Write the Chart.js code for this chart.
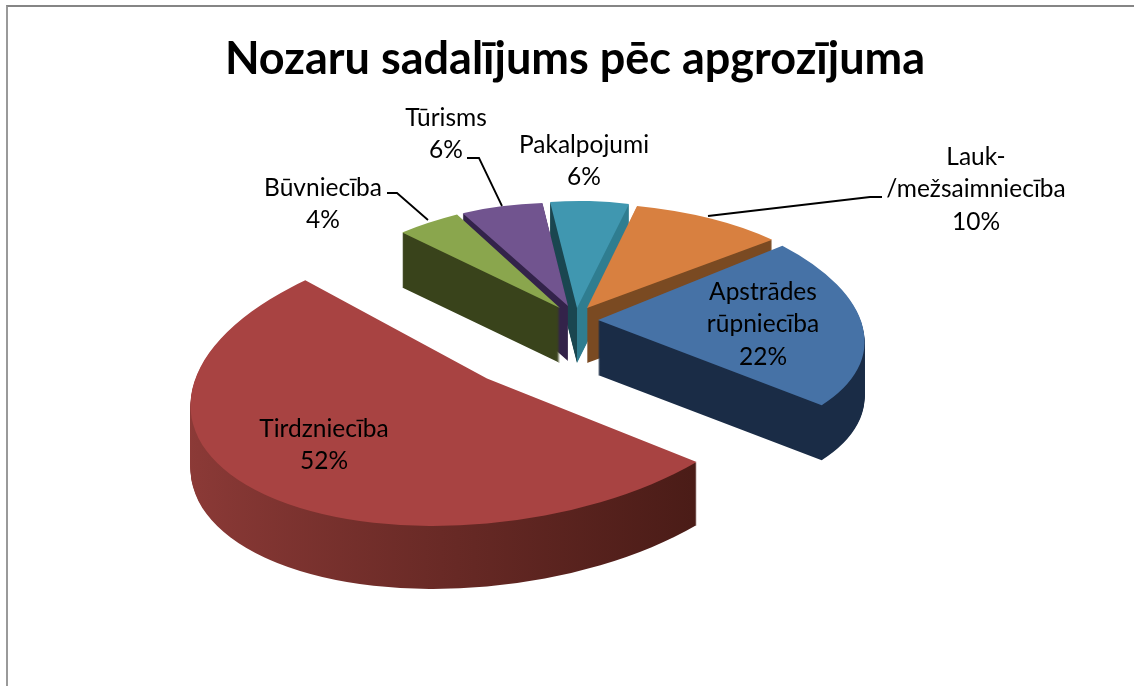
<!DOCTYPE html>
<html>
<head>
<meta charset="utf-8">
<title>Nozaru sadalījums</title>
<script src="https://cdn.jsdelivr.net/npm/chart.js@4/dist/chart.umd.min.js"></script>
<style>
  html, body { margin: 0; padding: 0; background: #fff; overflow: hidden; }
  #wrap { position: relative; width: 1134px; height: 686px; }
  #frame { position: absolute; left: 6px; top: 5px; right: 0; bottom: 0; border-top: 2px solid #858585; border-left: 2px solid #9a9a9a; }
  canvas { position: absolute; left: 0; top: 0; }
</style>
</head>
<body>
<div id="wrap"><div id="frame"></div><canvas id="chart" width="1134" height="686"></canvas></div>
<script>
const titleText = 'Nozaru sadalījums pēc apgrozījuma';
const categories = [['Apstrādes', 'rūpniecība'], ['Tirdzniecība'], ['Būvniecība'], ['Tūrisms'], ['Pakalpojumi'], ['Lauk-', '/mežsaimniecība']];
const values = [22, 52, 4, 6, 6, 10];
const faceColors = ['#4672a6', '#a84342', '#8aa64d', '#71548f', '#4097b0', '#d88040'];

// look of the tilted pie, per slice in the same order
const wallColors = [['#1a2c46', '#1a2c46'], ['#8c3a37', '#421813'], ['#39431b', '#39431b'], ['#33234a', '#33234a'], ['#1a4650', '#2f7d90'], ['#7a4a22', '#7a4a22']];
const wallHardStop = [false, false, false, false, true, false];
const pullX = [20, -91, -18, -10, -1, 9];
const pullY = [2, 60.5, -10, -12, -10, -10];
// perspective of each slice, as a 2d matrix [xx, yx, xy, yy] in px for a unit circle
const perspective = [[265, 8, 29, 125], [295, -12, -30, 147], [254, -7, -24, 111], [223, 6, -4, 103], [211, -1, -1, 107], [251, -1, 11, 105]];
const depth = [55, 63, 55, 55, 55, 55];
const drawOrder = [4, 3, 5, 2, 0, 1];
const pieCenter = { x: 578, y: 318 };

const labelFont = '24.5px Lato, Carlito, sans-serif';
const labelLineHeight = 32.5;
const labelSpots = [[763, 292], [324, 429], [323, 188], [446, 118], [584, 145], [976, 157]];
const leaders = [
  [[387, 193], [397, 193], [428, 220]],
  [[467, 158], [479, 158], [502, 206]],
  [[708, 216], [870, 197], [882, 197]],
];

const tiltedPie = {
  id: 'tiltedPie',
  beforeDatasetDraw(chart) {
    const ctx = chart.ctx;
    const arcs = chart.getDatasetMeta(0).data;
    drawOrder.forEach((i) => {
      const arc = arcs[i];
      const base = arc.options;
      const R = arc.outerRadius;
      const m = perspective[i];
      const place = (dy) => {
        ctx.transform(m[0] / R, m[1] / R, m[2] / R, m[3] / R, pieCenter.x + pullX[i], pieCenter.y + pullY[i] + dy);
        ctx.translate(-arc.x, -arc.y);
      };
      const wall = ctx.createLinearGradient(arc.x - R, 0, arc.x + R, 0);
      wall.addColorStop(0, wallColors[i][0]);
      if (wallHardStop[i]) {
        wall.addColorStop(0.5, wallColors[i][0]);
        wall.addColorStop(0.5, wallColors[i][1]);
      }
      wall.addColorStop(1, wallColors[i][1]);
      arc.options = Object.assign({}, base, { backgroundColor: wall });
      for (let d = depth[i]; d > 0; d--) {
        ctx.save();
        place(d);
        arc.draw(ctx);
        ctx.restore();
      }
      arc.options = base;
      ctx.save();
      place(0);
      arc.draw(ctx);
      ctx.restore();
    });
    return false;
  },
  afterDatasetsDraw(chart) {
    const ctx = chart.ctx;
    ctx.save();
    ctx.strokeStyle = '#000';
    ctx.lineWidth = 1.8;
    leaders.forEach((pts) => {
      ctx.beginPath();
      pts.forEach((p, n) => (n ? ctx.lineTo(p[0], p[1]) : ctx.moveTo(p[0], p[1])));
      ctx.stroke();
    });
    ctx.fillStyle = '#000';
    ctx.font = labelFont;
    ctx.textAlign = 'center';
    ctx.textBaseline = 'middle';
    chart.data.labels.forEach((lines, i) => {
      const rows = lines.concat(values[i] + '%');
      rows.forEach((row, n) => {
        ctx.fillText(row, labelSpots[i][0], labelSpots[i][1] + n * labelLineHeight);
      });
    });
    ctx.restore();
  },
};

new Chart(document.getElementById('chart'), {
  type: 'pie',
  data: {
    labels: categories,
    datasets: [{ data: values, backgroundColor: faceColors, borderWidth: 0, radius: 225 }],
  },
  options: {
    responsive: false,
    animation: false,
    events: [],
    rotation: 50,
    layout: { padding: { left: 16 } },
    plugins: {
      legend: { display: false },
      tooltip: { enabled: false },
      title: {
        display: true,
        text: titleText,
        color: '#000',
        font: { family: 'Lato, Carlito, sans-serif', size: 45, weight: 'bold' },
        padding: { top: 32, bottom: 20 },
      },
    },
  },
  plugins: [tiltedPie],
});
</script>
</body>
</html>
